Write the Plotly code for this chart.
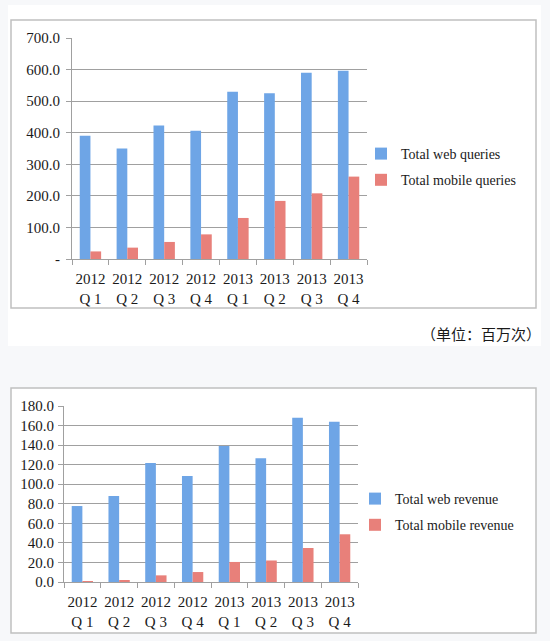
import plotly.graph_objects as go

categories = ["2012<br>Q 1", "2012<br>Q 2", "2012<br>Q 3", "2012<br>Q 4",
              "2013<br>Q 1", "2013<br>Q 2", "2013<br>Q 3", "2013<br>Q 4"]

web_queries = [390, 350, 423, 406, 530, 525, 590, 596]
mobile_queries = [24, 36, 54, 78, 130, 184, 208, 261]

web_revenue = [77.7, 88.0, 121.7, 108.4, 139.0, 126.5, 168.0, 164.0]
mobile_revenue = [0.3, 1.4, 6.8, 10.2, 20.5, 22.0, 34.8, 48.8]

top_tickvals = [0, 100, 200, 300, 400, 500, 600, 700]
top_ticktext = ["-", "100.0", "200.0", "300.0", "400.0", "500.0", "600.0", "700.0"]
bot_tickvals = [0, 20, 40, 60, 80, 100, 120, 140, 160, 180]
bot_ticktext = ["0.0", "20.0", "40.0", "60.0", "80.0", "100.0", "120.0", "140.0", "160.0", "180.0"]

W, H = 550, 641
BG = "#f7f8fa"
BLUE = "#6ea5e6"
RED = "#e8807a"
FONT = "Liberation Serif"

def px(x):
    return x / W

def py(y):
    return 1 - y / H

fig = go.Figure()
fig.add_trace(go.Bar(x=categories, y=web_queries, name="Total web queries",
                     marker=dict(color=BLUE, line=dict(width=0)),
                     xaxis="x", yaxis="y", legend="legend", legendgroup="a"))
fig.add_trace(go.Bar(x=categories, y=mobile_queries, name="Total mobile queries",
                     marker=dict(color=RED, line=dict(width=0)),
                     xaxis="x", yaxis="y", legend="legend", legendgroup="b"))
fig.add_trace(go.Bar(x=categories, y=web_revenue, name="Total web revenue",
                     marker=dict(color=BLUE, line=dict(width=0)),
                     xaxis="x2", yaxis="y2", legend="legend2", legendgroup="c"))
fig.add_trace(go.Bar(x=categories, y=mobile_revenue, name="Total mobile revenue",
                     marker=dict(color=RED, line=dict(width=0)),
                     xaxis="x2", yaxis="y2", legend="legend2", legendgroup="d"))

axis_common = dict(showline=True, linecolor="#a0a0a0", linewidth=1,
                   ticks="outside", tickcolor="#a0a0a0", ticklen=5,
                   automargin=False,
                   tickfont=dict(family=FONT, size=15, color="#1a1a1a"))

fig.update_layout(
    width=W, height=H,
    margin=dict(l=0, r=0, t=0, b=0, pad=0),
    paper_bgcolor=BG,
    plot_bgcolor="rgba(0,0,0,0)",
    barmode="group", bargap=0.42, bargroupgap=0,
    xaxis=dict(domain=[px(72), px(367)], anchor="y", tickson="boundaries",
               tickangle=0, showgrid=False, ticklabelstandoff=6, **axis_common),
    yaxis=dict(domain=[py(259), py(38)], anchor="x", range=[0, 700],
               tickvals=top_tickvals, ticktext=top_ticktext, ticklabelstandoff=3,
               showgrid=True, gridcolor="#a0a0a0", gridwidth=1, zeroline=False,
               **axis_common),
    xaxis2=dict(domain=[px(64), px(358)], anchor="y2", tickson="boundaries",
                tickangle=0, showgrid=False, ticklabelstandoff=6, **axis_common),
    yaxis2=dict(domain=[py(582), py(406)], anchor="x2", range=[0, 180],
                tickvals=bot_tickvals, ticktext=bot_ticktext, ticklabelstandoff=1,
                showgrid=True, gridcolor="#a0a0a0", gridwidth=1, zeroline=False,
                **axis_common),
    legend=dict(x=px(361), y=py(138), xanchor="left", yanchor="top",
                bgcolor="rgba(0,0,0,0)", itemwidth=30, tracegroupgap=5,
                traceorder="grouped",
                font=dict(family=FONT, size=14, color="#1a1a1a")),
    legend2=dict(x=px(355), y=py(483), xanchor="left", yanchor="top",
                 bgcolor="rgba(0,0,0,0)", itemwidth=30, tracegroupgap=5,
                 traceorder="grouped",
                 font=dict(family=FONT, size=14, color="#1a1a1a")),
    shapes=[
        dict(type="rect", xref="paper", yref="paper", layer="below",
             x0=px(8), x1=px(541), y0=py(346), y1=py(5),
             fillcolor="white", line=dict(width=0)),
        dict(type="rect", xref="paper", yref="paper", layer="below",
             x0=px(11), x1=px(536), y0=py(308), y1=py(20),
             fillcolor="white", line=dict(color="#c0c0c0", width=1.5)),
        dict(type="rect", xref="paper", yref="paper", layer="below",
             x0=px(11), x1=px(536), y0=py(633), y1=py(388),
             fillcolor="white", line=dict(color="#c0c0c0", width=1.5)),
    ],
    annotations=[
        dict(text="（单位：百万次）", xref="paper", yref="paper",
             x=px(543), y=py(333), xanchor="right", yanchor="middle",
             showarrow=False,
             font=dict(family="Noto Sans CJK SC", size=15, color="#1a1a1a")),
    ],
)

fig.write_html(
    "out.html",
    config={"displayModeBar": False},
    post_script="document.body.style.margin='0';document.body.style.background='" + BG + "';",
)
